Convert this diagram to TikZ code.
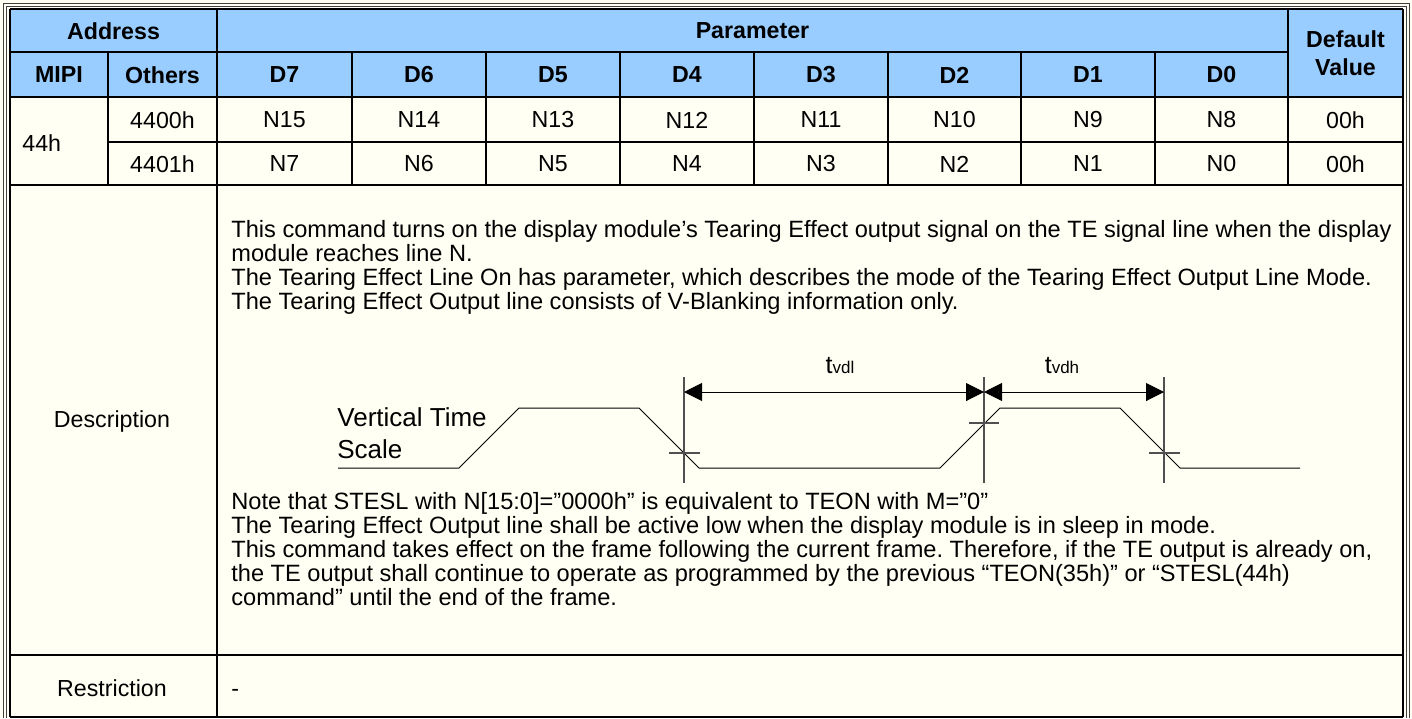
\documentclass[tikz,border=0pt]{standalone}
\usepackage{fontspec}
\setmainfont{Liberation Sans}
\usepackage{xcolor}
\usetikzlibrary{arrows.meta, positioning, calc}
\frenchspacing

\definecolor{hdrblue}{HTML}{99CCFF}
\definecolor{cellbg}{HTML}{FFFFF4}
\definecolor{markgray}{HTML}{505050}

\begin{document}
\begin{tikzpicture}[
    x=0.5pt, y=-0.5pt,
    hdr/.style={font=\fontsize{11.6}{14}\selectfont\bfseries, align=center, inner sep=0pt},
    cell/.style={font=\fontsize{11.6}{12}\selectfont, inner sep=0pt},
    desc/.style={font=\fontsize{11.8}{12}\selectfont, align=left, inner sep=0pt, anchor=north west},
    grid/.style={line width=0.8pt, draw=black},
    frame/.style={line width=0.5pt, draw=black!75},
    wave/.style={line width=0.5pt, draw=black},
    marker/.style={line width=0.7pt, draw=markgray},
    dimarrow/.style={{Triangle[length=9pt,width=9pt]}-{Triangle[length=9pt,width=9pt]}, line width=0.5pt}
]
    % Page and header background
    \fill[cellbg] (0,0) rectangle (1412,718);
    \useasboundingbox (0,0) rectangle (1412,718);
    \fill[hdrblue] (10,9) rectangle (1403,97);

    % Double outer frame
    \draw[frame] (3.5,718) -- (3.5,3.5) -- (1409,3.5) -- (1409,718);
    \draw[frame] (6.5,718) -- (6.5,6.5) -- (1406,6.5) -- (1406,718);

    % Table rules
    \draw[grid] (10,9) -- (1403,9);
    \draw[grid] (10,52) -- (1288,52);
    \draw[grid] (10,97) -- (1403,97);
    \draw[grid] (108,142) -- (1403,142);
    \draw[grid] (10,185) -- (1403,185);
    \draw[grid] (10,655) -- (1403,655);
    \draw[grid] (10,717) -- (1403,717);
    \draw[grid] (10,9) -- (10,717);
    \draw[grid] (1403,9) -- (1403,717);
    \draw[grid] (217,9) -- (217,717);
    \draw[grid] (1288,9) -- (1288,185);
    \draw[grid] (108,52) -- (108,185);
    \draw[grid] (352,52) -- (352,185);
    \draw[grid] (486,52) -- (486,185);
    \draw[grid] (620,52) -- (620,185);
    \draw[grid] (754,52) -- (754,185);
    \draw[grid] (888,52) -- (888,185);
    \draw[grid] (1021,52) -- (1021,185);
    \draw[grid] (1155,52) -- (1155,185);

    % Header cells
    \node[hdr] (addr) at (113.5,31) {Address};
    \node[hdr] (param) at (752.5,31) {Parameter};
    \node[hdr] (defval) at (1345.5,53) {Default\\Value};
    \node[hdr] (mipi) at (59,75) {MIPI};
    \node[hdr] (others) at (162.5,75) {Others};
    \node[hdr] (d7) at (284.5,75) {D7};
    \node[hdr] (d6) at (419,75) {D6};
    \node[hdr] (d5) at (553,75) {D5};
    \node[hdr] (d4) at (687,75) {D4};
    \node[hdr] (d3) at (821,75) {D3};
    \node[hdr] (d2) at (954.5,75) {D2};
    \node[hdr] (d1) at (1088,75) {D1};
    \node[hdr] (d0) at (1221.5,75) {D0};

    % Data rows
    \node[cell, anchor=west] (mipiaddr) at (22,143) {44h};
    \node[cell] (addrhi) at (162.5,120) {4400h};
    \node[cell] (addrlo) at (162.5,164) {4401h};
    \node[cell] (n15) at (284.5,120) {N15};
    \node[cell] (n14) at (419,120) {N14};
    \node[cell] (n13) at (553,120) {N13};
    \node[cell] (n12) at (687,120) {N12};
    \node[cell] (n11) at (821,120) {N11};
    \node[cell] (n10) at (954.5,120) {N10};
    \node[cell] (n9) at (1088,120) {N9};
    \node[cell] (n8) at (1221.5,120) {N8};
    \node[cell] (defhi) at (1345.5,120) {00h};
    \node[cell] (n7) at (284.5,164) {N7};
    \node[cell] (n6) at (419,164) {N6};
    \node[cell] (n5) at (553,164) {N5};
    \node[cell] (n4) at (687,164) {N4};
    \node[cell] (n3) at (821,164) {N3};
    \node[cell] (n2) at (954.5,164) {N2};
    \node[cell] (n1) at (1088,164) {N1};
    \node[cell] (n0) at (1221.5,164) {N0};
    \node[cell] (deflo) at (1345.5,164) {00h};

    % Description row
    \node[cell] (desclbl) at (112,421) {Description};
    \node[desc] (desctop) at (231,219.5) {This command turns on the display module’s Tearing Effect output signal on the TE signal line when the display\\
        module reaches line N.\\
        The Tearing Effect Line On has parameter, which describes the mode of the Tearing Effect Output Line Mode.\\
        The Tearing Effect Output line consists of V-Blanking information only.};
    \node[desc] (descbot) at (231,491.5) {Note that STESL with N[15:0]=”0000h” is equivalent to TEON with M=”0”\\
        The Tearing Effect Output line shall be active low when the display module is in sleep in mode.\\
        This command takes effect on the frame following the current frame. Therefore, if the TE output is already on,\\
        the TE output shall continue to operate as programmed by the previous “TEON(35h)” or “STESL(44h)\\
        command” until the end of the frame.};

    % Timing waveform
    \node[anchor=north west, align=left, inner sep=0pt, font=\fontsize{13}{16}\selectfont] (vts) at (337,407.5) {Vertical Time\\Scale};
    \coordinate (w0) at (338,468);
    \coordinate (w1) at (459,468);
    \coordinate (w2) at (519,408);
    \coordinate (w3) at (639,408);
    \coordinate (w4) at (699,468);
    \coordinate (w5) at (940,468);
    \coordinate (w6) at (1000,408);
    \coordinate (w7) at (1120,408);
    \coordinate (w8) at (1180,468);
    \coordinate (w9) at (1300,468);
    \draw[wave] (w0) -- (w1) -- (w2) -- (w3) -- (w4) -- (w5) -- (w6) -- (w7) -- (w8) -- (w9);

    % Markers and timing arrows
    \draw[marker] (684,377) -- (684,483);
    \draw[marker] (984,377) -- (984,483);
    \draw[marker] (1164,377) -- (1164,483);
    \draw[marker] (669,453) -- (700,453);
    \draw[marker] (969,423) -- (999,423);
    \draw[marker] (1149,453) -- (1180,453);
    \coordinate (m1) at (684,392);
    \coordinate (m2) at (984,392);
    \coordinate (m3) at (1164,392);
    \draw[dimarrow] (m1) -- (m2);
    \draw[dimarrow] (m2) -- (m3);
    \node[anchor=base, inner sep=0pt, font=\fontsize{12.5}{13}\selectfont] (tvdl) at (840,373) {t{\fontsize{8.5}{9}\selectfont vdl}};
    \node[anchor=base, inner sep=0pt, font=\fontsize{12.5}{13}\selectfont] (tvdh) at (1062,373) {t{\fontsize{8.5}{9}\selectfont vdh}};

    % Restriction row
    \node[cell] (restr) at (112,688) {Restriction};
    \node[cell, anchor=base west] (restrval) at (231,696) {-};
\end{tikzpicture}
\end{document}
